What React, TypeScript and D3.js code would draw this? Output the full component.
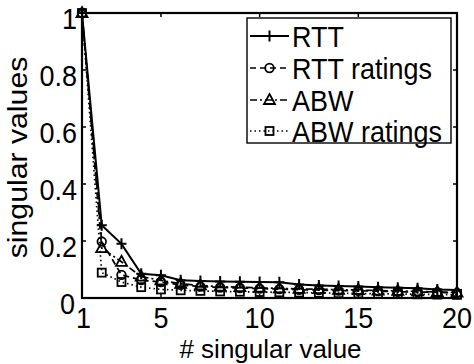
import * as d3 from 'd3'

const xs = d3.range(1, 21)
const rtt = [1, 0.255, 0.19, 0.085, 0.08, 0.062, 0.06, 0.058, 0.057, 0.056, 0.055, 0.047, 0.044, 0.042, 0.04, 0.038, 0.036, 0.034, 0.03, 0.028]
const rttRatings = [1, 0.198, 0.081, 0.063, 0.056, 0.046, 0.04, 0.037, 0.035, 0.033, 0.031, 0.029, 0.028, 0.026, 0.025, 0.024, 0.022, 0.021, 0.02, 0.018]
const abw = [1, 0.175, 0.127, 0.075, 0.062, 0.05, 0.044, 0.04, 0.038, 0.036, 0.034, 0.032, 0.031, 0.029, 0.028, 0.026, 0.025, 0.023, 0.021, 0.019]
const abwRatings = [1, 0.089, 0.056, 0.038, 0.03, 0.027, 0.025, 0.023, 0.022, 0.021, 0.02, 0.019, 0.018, 0.017, 0.016, 0.015, 0.014, 0.013, 0.012, 0.011]

const xTicks = [1, 5, 10, 15, 20]
const yTicks = [0, 0.2, 0.4, 0.6, 0.8, 1]
const yTickLabels = ['0', '0.2', '0.4', '0.6', '0.8', '1']

const SERIES = [
  { name: 'RTT', values: rtt, dash: null, marker: 'plus' },
  { name: 'RTT ratings', values: rttRatings, dash: '6,4', marker: 'circle' },
  { name: 'ABW', values: abw, dash: '7,3,2,3', marker: 'triangle' },
  { name: 'ABW ratings', values: abwRatings, dash: '1.5,3', marker: 'square' },
]

const W = 474, H = 364
const L = 82, R = 457, T = 13, B = 298
const FONT = '"Liberation Sans", Arial, sans-serif'
const FS = 27
const SY = 1.12 // the source picture is a bit stretched vertically

function Marker({ kind, x, y }: { kind: string; x: number; y: number }) {
  const c = { fill: 'none', stroke: '#000', strokeWidth: 1.8 }
  if (kind === 'plus')
    return <path d={`M${x - 5},${y}H${x + 5}M${x},${y - 5.5}V${y + 5.5}`} {...c} strokeWidth={2} />
  if (kind === 'circle') return <circle cx={x} cy={y} r={4.3} {...c} />
  if (kind === 'triangle')
    return <path d={`M${x},${y - 6}L${x + 5.5},${y + 4}L${x - 5.5},${y + 4}Z`} {...c} />
  return <rect x={x - 4} y={y - 4} width={8} height={8} {...c} />
}

function Label({ x, y, anchor, children }: { x: number; y: number; anchor?: string; children: any }) {
  return (
    <text transform={`translate(${x},${y}) scale(1,${SY})`} textAnchor={anchor ?? 'start'}>{children}</text>
  )
}

export default function App() {
  const x = d3.scaleLinear().domain([1, 20]).range([L, R])
  const y = d3.scaleLinear().domain([0, 1]).range([B, T])
  const line = d3.line<number>().x((_, i) => x(xs[i])).y(d => y(d))

  const legX = 247, legY = 18, legW = 204, legH = 125
  const rowBase = [47, 79, 111, 142]

  return (
    <svg width={W} height={H} style={{ position: 'absolute', left: 0, top: 0, background: '#fff' }}
      fontFamily={FONT} fontSize={FS}>
      <rect width={W} height={H} fill="#fff" />
      {SERIES.map(s => (
        <g key={s.name}>
          <path d={line(s.values) ?? ''} fill="none" stroke="#000" strokeWidth={s.dash ? 1.7 : 2}
            strokeDasharray={s.dash ?? undefined} />
          {s.values.map((v, i) => <Marker key={i} kind={s.marker} x={x(xs[i])} y={y(v)} />)}
        </g>
      ))}
      {/* axes box */}
      <rect x={L} y={T} width={R - L} height={B - T} fill="none" stroke="#000" strokeWidth={2.2} />
      {xTicks.map((t, i) => (
        <g key={'x' + t}>
          <line x1={x(t)} x2={x(t)} y1={B} y2={B - 4} stroke="#000" strokeWidth={1.5} />
          <line x1={x(t)} x2={x(t)} y1={T} y2={T + 4} stroke="#000" strokeWidth={1.5} />
          <Label x={x(t) + (i === 0 ? 1.5 : 0)} y={328} anchor="middle">{t}</Label>
        </g>
      ))}
      {yTicks.map((t, i) => (
        <g key={'y' + t}>
          <line x1={L} x2={L + 4} y1={y(t)} y2={y(t)} stroke="#000" strokeWidth={1.5} />
          <line x1={R} x2={R - 4} y1={y(t)} y2={y(t)} stroke="#000" strokeWidth={1.5} />
          <Label x={i === 0 ? 75 : 77} y={y(t) + 16} anchor="end">{yTickLabels[i]}</Label>
        </g>
      ))}
      <text x={(L + R) / 2 + 1} y={358} textAnchor="middle" fontSize={26}># singular value</text>
      <text transform={`translate(27,${(T + B) / 2 + 2}) rotate(-90) scale(${SY},1)`} textAnchor="middle">singular values</text>
      {/* legend */}
      <rect x={legX} y={legY} width={legW} height={legH} fill="#fff" stroke="#000" strokeWidth={1.4} />
      {SERIES.map((s, i) => {
        const ly = rowBase[i] - 11
        return (
          <g key={'leg' + s.name}>
            <line x1={250} x2={289} y1={ly} y2={ly} stroke="#000" strokeWidth={s.dash ? 1.7 : 2}
              strokeDasharray={s.dash ?? undefined} />
            <Marker kind={s.marker} x={269.5} y={ly} />
            <Label x={292} y={rowBase[i]}>{s.name}</Label>
          </g>
        )
      })}
    </svg>
  )
}
